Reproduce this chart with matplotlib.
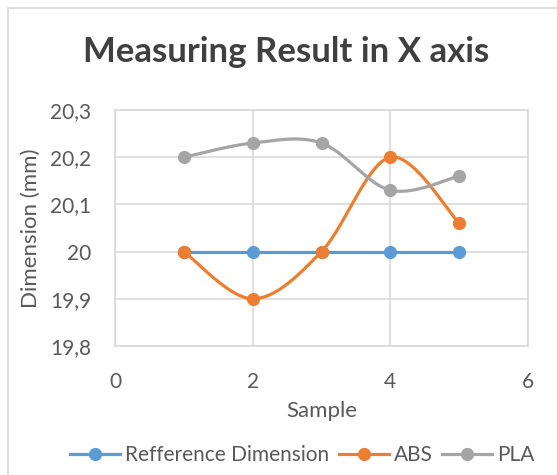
import numpy as np
import matplotlib.pyplot as plt
from matplotlib.ticker import FuncFormatter
from matplotlib.patches import Rectangle

# --- data
samples = [1, 2, 3, 4, 5]
ref_dim = [20.0, 20.0, 20.0, 20.0, 20.0]
abs_vals = [20.0, 19.9, 20.0, 20.2, 20.06]
pla_vals = [20.2, 20.23, 20.23, 20.13, 20.16]
series_names = ['Refference Dimension', 'ABS', 'PLA']
colors = ['#5b9bd5', '#ed7d31', '#a5a5a5']

plt.rcParams['font.family'] = ['Lato', 'DejaVu Sans']
TXT = '#595959'


def smooth(x, y, n=40):
    # Excel-like smoothed line: cardinal spline through the points
    x = np.asarray(x, float)
    y = np.asarray(y, float)
    px = np.concatenate([[x[0]], x, [x[-1]]])
    py = np.concatenate([[y[0]], y, [y[-1]]])
    xs, ys = [], []
    t = np.linspace(0, 1, n)
    for i in range(1, len(px) - 2):
        p0 = np.array([px[i], py[i]])
        p3 = np.array([px[i + 1], py[i + 1]])
        c1 = p0 + (np.array([px[i + 1], py[i + 1]]) - np.array([px[i - 1], py[i - 1]])) / 6
        c2 = p3 - (np.array([px[i + 2], py[i + 2]]) - np.array([px[i], py[i]])) / 6
        b = ((1 - t) ** 3)[:, None] * p0 + (3 * (1 - t) ** 2 * t)[:, None] * c1 \
            + (3 * (1 - t) * t ** 2)[:, None] * c2 + (t ** 3)[:, None] * p3
        xs.extend(b[:, 0])
        ys.extend(b[:, 1])
    return np.array(xs), np.array(ys)


fig = plt.figure(figsize=(5.57, 4.75), dpi=100)
ax = fig.add_axes([115 / 557, 1 - 346 / 475, 413 / 557, 236 / 475])

for vals, name, c in zip([ref_dim, abs_vals, pla_vals], series_names, colors):
    sx, sy = smooth(samples, vals)
    ax.plot(sx, sy, color=c, lw=2.3, solid_capstyle='round', zorder=3)
    ax.plot(samples, vals, 'o', color=c, ms=8.5, zorder=4)
    ax.plot([], [], '-o', color=c, lw=2.3, ms=8.5, label=name)

ax.set_xlim(0, 6)
ax.set_ylim(19.8, 20.3)
ax.set_xticks([0, 2, 4, 6])
ax.set_yticks([19.8, 19.9, 20.0, 20.1, 20.2, 20.3])
ax.yaxis.set_major_formatter(FuncFormatter(lambda v, p: ('%g' % round(v, 1)).replace('.', ',')))
ax.grid(True, color='#d9d9d9', lw=1.2)
ax.set_axisbelow(True)
for s in ax.spines.values():
    s.set_color('#d9d9d9')
    s.set_linewidth(1.2)
ax.tick_params(length=0, labelsize=15, colors=TXT)
ax.tick_params(axis='y', pad=17)
ax.tick_params(axis='x', pad=19)
ax.set_xlabel('Sample', fontsize=16, color=TXT)
ax.set_ylabel('Dimension (mm)', fontsize=16, color=TXT)
ax.xaxis.set_label_coords(0.5, -0.235)
ax.yaxis.set_label_coords(-0.18, 0.5)

fig.text(0.513, 1 - 52 / 475, 'Measuring Result in X axis', ha='center', va='center',
         fontsize=25, fontweight='bold', color='#404040')

ax.legend(loc='center', bbox_to_anchor=(0.543, 1 - 455 / 475), bbox_transform=fig.transFigure,
          ncol=3, frameon=False, fontsize=15, labelcolor=TXT, handlelength=2.4,
          handletextpad=0.25, columnspacing=0.45)

fig.patches.append(Rectangle((8 / 557, -0.1), 1.2, 1 - 8 / 475 + 0.1, transform=fig.transFigure,
                             fill=False, edgecolor='#d9d9d9', lw=1.2))

fig.savefig('out.png', dpi=100)
